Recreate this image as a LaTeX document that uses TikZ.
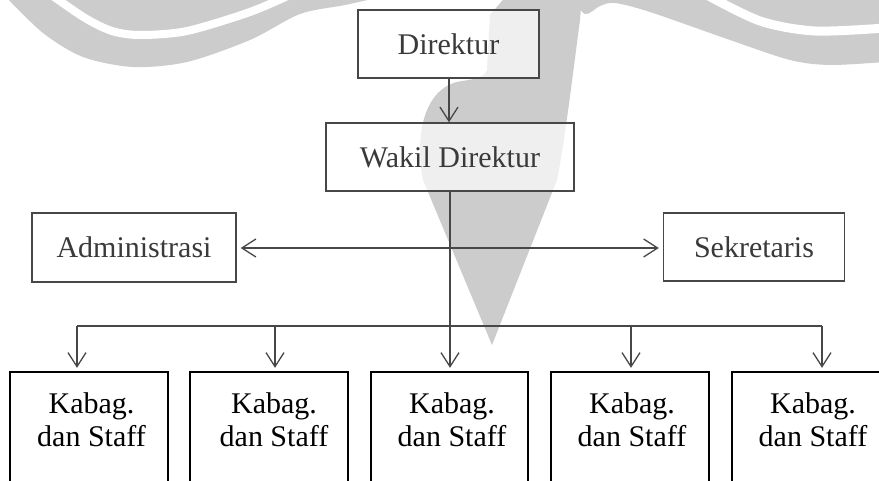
\documentclass[tikz,border=0pt]{standalone}
\usepackage{fontspec}
\setmainfont{Liberation Serif}
\usetikzlibrary{arrows.meta,calc}
\definecolor{wm}{HTML}{CCCCCC}
\definecolor{topline}{HTML}{474747}
\definecolor{toptext}{HTML}{3A3A3A}
\begin{document}
\begin{tikzpicture}[x=1pt,y=-1pt,
  topbox/.style={draw=topline, line width=1.4pt, fill=white, fill opacity=0.7, text opacity=1,
    text=toptext, font=\fontsize{30}{33}\selectfont, inner sep=0pt, minimum height=68pt},
  kabtext/.style={text=black, font=\fontsize{30}{33}\selectfont, align=center, inner sep=0pt,
    minimum height=96pt},
  kabbox/.style={draw=black, line width=1.8pt},
  conn/.style={draw=topline, line width=1.3pt},
  arr/.style={conn, -{Straight Barb[length=14pt,width=18pt]}},
  darr/.style={conn, {Straight Barb[length=14pt,width=18pt]}-{Straight Barb[length=14pt,width=18pt]}}
]
\useasboundingbox (0,0) rectangle (879,481);
\fill[white] (0,0) rectangle (879,481);
% watermark
\begin{scope}
  \clip (0,0) rectangle (879,481);
  \fill[wm] plot[smooth] coordinates {(5,-4) (43,33) (83,57) (133,67) (187,62) (250,40) (300,14) (345,5) (385,-4)} -- cycle;
  \draw[white, line width=8pt] plot[smooth] coordinates {(50,-6) (85,18) (112,31) (140,35) (187,31) (250,12) (292,-6)};
  \fill[wm] plot[smooth] coordinates {(570,-4) (585,14) (600,6) (615,3) (650,12) (730,40) (790,60) (830,65) (885,62)} -- (885,-4) -- cycle;
  \draw[white, line width=9pt] plot[smooth] coordinates {(705,-6) (760,21) (815,31) (885,28)};
  \fill[wm] (492,345) -- (423,180) .. controls (414,130) and (426,86) .. (462,81)
    .. controls (476,79) and (485,77) .. (487,70) -- (490,15) -- (507,-5) -- (582,-5) -- (580,20)
    .. controls (572,80) and (565,140) .. (557,180) -- cycle;
\end{scope}
% top boxes
\node[topbox, minimum width=181pt] (dir) at (448.5,44) {Direktur};
\node[topbox, minimum width=248pt] (wakil) at (450,157) {Wakil Direktur};
\node[topbox, minimum width=204pt, minimum height=69pt] (adm) at (134,247.5) {Administrasi};
\node[topbox, minimum width=181pt] (sek) at (754,247) {Sekretaris};
% kabag
\node[kabtext, minimum width=158pt] (k1) at (89,420) {\hspace*{5pt}Kabag.\\\hspace*{5pt}dan Staff};
\node[kabtext, minimum width=158pt] (k2) at (269,420) {\hspace*{10pt}Kabag.\\\hspace*{10pt}dan Staff};
\node[kabtext, minimum width=157pt] (k3) at (449.5,420) {\hspace*{5pt}Kabag.\\\hspace*{5pt}dan Staff};
\node[kabtext, minimum width=158pt] (k4) at (630,420) {\hspace*{4pt}Kabag.\\\hspace*{4pt}dan Staff};
\node[kabtext, minimum width=158pt] (k5) at (811,420) {\hspace*{4pt}Kabag.\\\hspace*{4pt}dan Staff};
\foreach \k in {k1,k2,k3,k4,k5}{
  \draw[kabbox] (\k.north west) rectangle ([yshift=-100pt]\k.south east);
}
% connectors
\coordinate (bus) at (450,326);
\draw[arr] (dir.south -| 449,0) -- (wakil.north -| 449,0);
\draw[arr, shorten >=4pt] (wakil.south) -- (wakil.south |- k3.north);
\draw[darr, shorten <=4pt, shorten >=4pt] (adm.east |- 0,248) -- (sek.west |- 0,248);
\draw[conn] ([xshift=-12pt]k1.north |- bus) -- ([xshift=11pt]k5.north |- bus);
\draw[arr, shorten >=4pt] ([xshift=-12pt]k1.north |- bus) -- ([xshift=-12pt]k1.north);
\draw[arr, shorten >=4pt] ([xshift=6pt]k2.north |- bus) -- ([xshift=6pt]k2.north);
\draw[arr, shorten >=4pt] ([xshift=1pt]k4.north |- bus) -- ([xshift=1pt]k4.north);
\draw[arr, shorten >=4pt] ([xshift=11pt]k5.north |- bus) -- ([xshift=11pt]k5.north);
\end{tikzpicture}
\end{document}
